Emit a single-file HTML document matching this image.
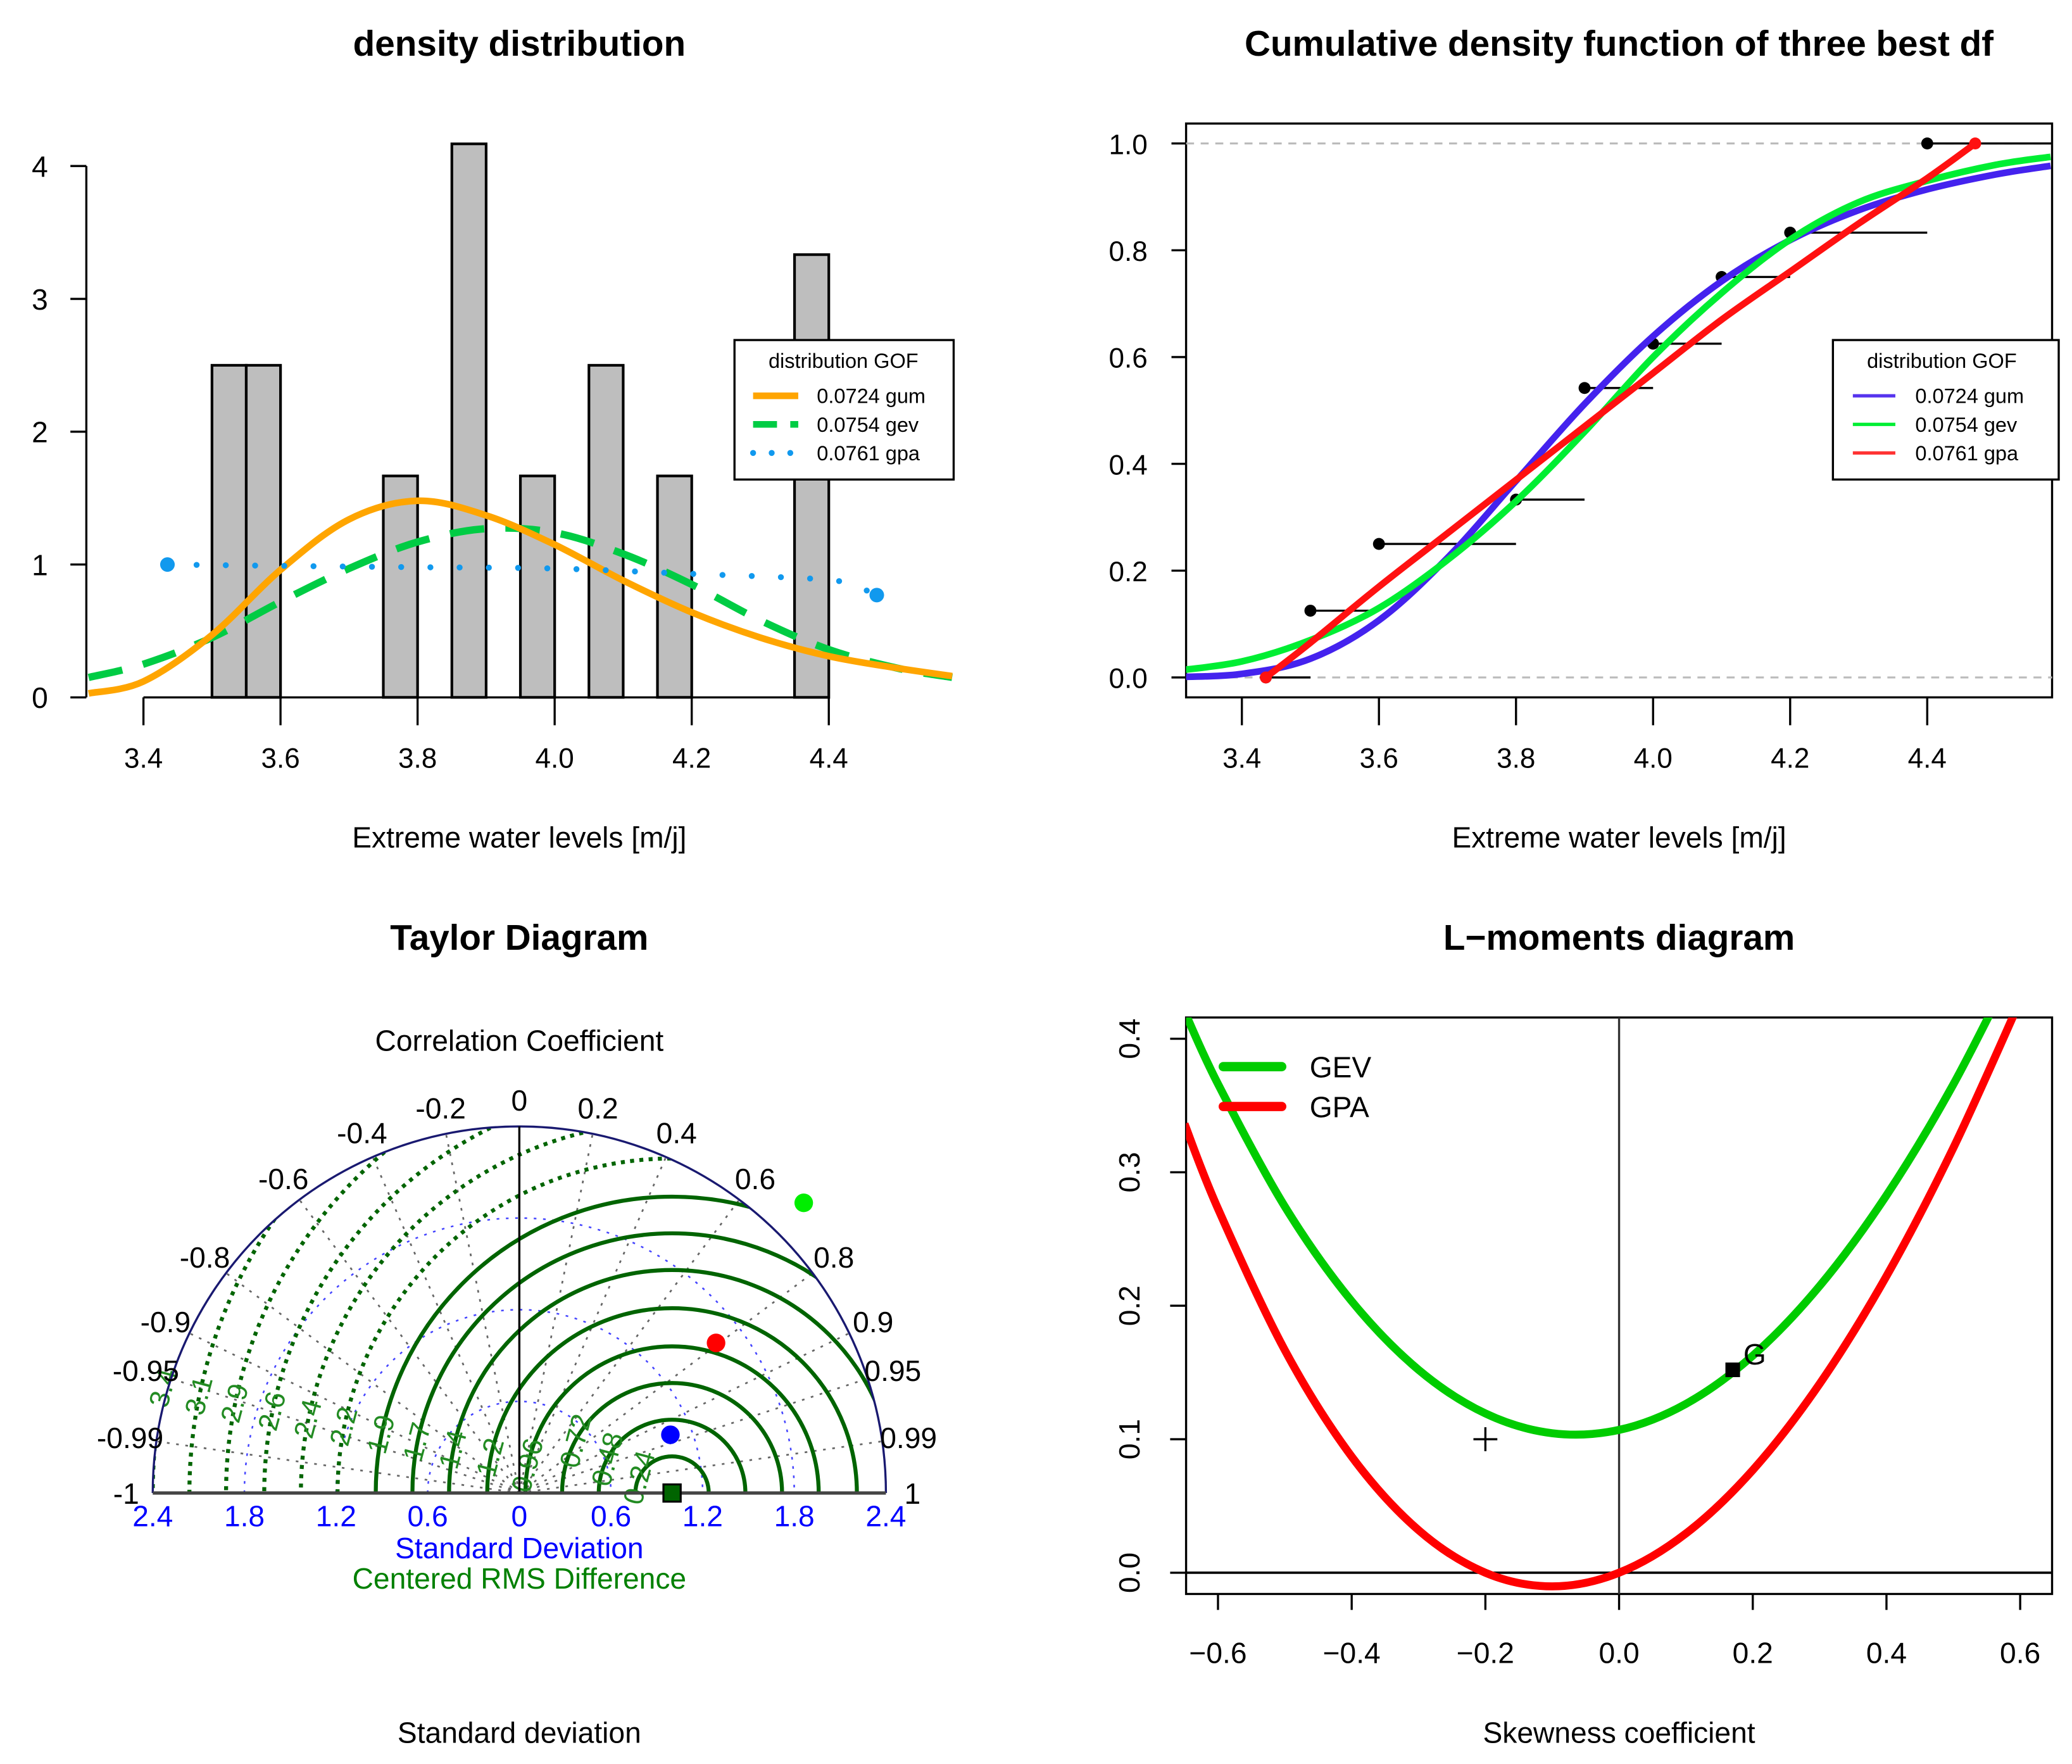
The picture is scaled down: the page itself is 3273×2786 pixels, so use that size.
<!DOCTYPE html>
<html><head><meta charset="utf-8">
<style>
html,body{margin:0;padding:0;background:#fff;overflow:hidden;width:3273px;height:2786px;}
svg{display:block;font-family:"Liberation Sans",Arial,sans-serif;}
</style></head>
<body>
<svg id="root" xmlns="http://www.w3.org/2000/svg" width="3273" height="2786" viewBox="0 0 1560 1328" preserveAspectRatio="none">
<rect x="0" y="0" width="1560" height="1328" fill="#fff"/>
<defs>
  <clipPath id="c1"><rect x="65" y="60" width="653" height="466"/></clipPath>
  <clipPath id="c2"><rect x="893" y="93" width="652" height="432"/></clipPath>
  <clipPath id="c4"><rect x="893" y="766" width="652" height="434"/></clipPath>
  <clipPath id="c3"><path d="M115,1124 A276,276 0 0 1 667,1124 Z"/></clipPath>
</defs>
<g id="p1"></g>
<g id="p2"></g>
<g id="p3"></g>
<g id="p4"></g>
</svg>
<script>
// ---------- Panel 1 data ----------
const binStarts = [3.50, 3.55, 3.75, 3.85, 3.95, 4.05, 4.15, 4.35];
const binDensity = [2.5, 2.5, 1.667, 4.167, 1.667, 2.5, 1.667, 3.333];
const binWidth = 0.05;
const densX = [3.32, 3.4, 3.5, 3.6, 3.7, 3.8, 3.9, 4.0, 4.1, 4.2, 4.3, 4.4, 4.5, 4.58];
const gumDens = [0.03, 0.12, 0.47, 0.96, 1.34, 1.48, 1.37, 1.15, 0.88, 0.64, 0.45, 0.31, 0.22, 0.16];
const gevDens = [0.15, 0.25, 0.45, 0.72, 0.97, 1.17, 1.27, 1.24, 1.08, 0.85, 0.58, 0.36, 0.22, 0.15];
const gpaX = [3.435, 3.6, 3.8, 4.0, 4.2, 4.35, 4.42, 4.47];
const gpaDens = [1.0, 0.99, 0.98, 0.97, 0.93, 0.9, 0.87, 0.77];
const p1XTicks = [3.4, 3.6, 3.8, 4.0, 4.2, 4.4];
const p1YTicks = [0, 1, 2, 3, 4];
const legendLabels = ["0.0724 gum", "0.0754 gev", "0.0761 gpa"];
// ---------- Panel 2 data ----------
const cdfX = [3.3, 3.4, 3.5, 3.6, 3.7, 3.8, 3.9, 4.0, 4.1, 4.2, 4.3, 4.4, 4.5, 4.58];
const gumCdf = [0.0006, 0.0067, 0.035, 0.107, 0.224, 0.368, 0.512, 0.639, 0.742, 0.819, 0.875, 0.914, 0.942, 0.958];
const gevCdf = [0.012, 0.03, 0.07, 0.13, 0.22, 0.33, 0.46, 0.60, 0.72, 0.82, 0.89, 0.93, 0.96, 0.975];
const gpaCdfX = [3.435, 3.5, 3.6, 3.7, 3.8, 3.9, 4.0, 4.1, 4.2, 4.3, 4.4, 4.47];
const gpaCdf = [0, 0.065, 0.17, 0.27, 0.37, 0.47, 0.57, 0.67, 0.76, 0.85, 0.935, 1.0];
const ecdfX = [3.435, 3.5, 3.6, 3.8, 3.9, 4.0, 4.1, 4.2, 4.4];
const ecdfY = [0, 0.125, 0.25, 0.333, 0.542, 0.625, 0.75, 0.833, 1.0];
const p2XTicks = [3.4, 3.6, 3.8, 4.0, 4.2, 4.4];
const p2YTicks = [0, 0.2, 0.4, 0.6, 0.8, 1.0];
// ---------- Panel 3 data ----------
const corrTicks = [0, 0.2, 0.4, 0.6, 0.8, 0.9, 0.95, 0.99, 1];
const sdTicks = [0, 0.6, 1.2, 1.8, 2.4];
const sdArcs = [0.6, 1.2, 1.8];
const rmsLevels = [0.24, 0.48, 0.72, 0.96, 1.21, 1.46, 1.70, 1.94, 2.19, 2.43, 2.67, 2.92, 3.16, 3.40];
const rmsLabels = ["0.24", "0.48", "0.72", "0.96", "1.2", "1.4", "1.7", "1.9", "2.2", "2.4", "2.6", "2.9", "3.1", "3.4"];
const refSD = 1.0;
const modelSD = [2.66, 1.62, 1.06];
const modelCorr = [0.70, 0.795, 0.933];
const modelColors = ["#00ee00", "#ff0000", "#0000ff"];
// ---------- Panel 4 data ----------
const lmX = [-0.65, -0.6, -0.5, -0.4, -0.3, -0.2, -0.1, 0, 0.1, 0.2, 0.3, 0.4, 0.5, 0.6];
const gevL = [0.4204, 0.3661, 0.2743, 0.2034, 0.1520, 0.1193, 0.1045, 0.1070, 0.1265, 0.1626, 0.2148, 0.2827, 0.3658, 0.4638];
const gpaL = [0.3362, 0.2727, 0.1667, 0.0870, 0.0319, 0, -0.0102, 0, 0.0294, 0.0769, 0.1415, 0.2222, 0.3182, 0.4286];
const sampleSkew = [0.17];
const sampleKurt = [0.152];
const crossSkew = [-0.2];
const crossKurt = [0.10];
const p4XTicks = [-0.6, -0.4, -0.2, 0.0, 0.2, 0.4, 0.6];
const p4YTicks = [0.0, 0.1, 0.2, 0.3, 0.4];

const NS = "http://www.w3.org/2000/svg";
function mk(parent, tag, attrs, text) {
  const e = document.createElementNS(NS, tag);
  for (const k in attrs) e.setAttribute(k, attrs[k]);
  if (text !== undefined) e.textContent = text;
  parent.appendChild(e);
  return e;
}
function spline(pts) {
  let d = "M" + pts[0][0] + "," + pts[0][1];
  for (let i = 0; i < pts.length - 1; i++) {
    const p0 = pts[Math.max(0, i - 1)], p1 = pts[i], p2 = pts[i + 1], p3 = pts[Math.min(pts.length - 1, i + 2)];
    const c1x = p1[0] + (p2[0] - p0[0]) / 6, c1y = p1[1] + (p2[1] - p0[1]) / 6;
    const c2x = p2[0] - (p3[0] - p1[0]) / 6, c2y = p2[1] - (p3[1] - p1[1]) / 6;
    d += " C" + c1x + "," + c1y + " " + c2x + "," + c2y + " " + p2[0] + "," + p2[1];
  }
  return d;
}
function fmt1(v) { return v.toFixed(1); }

// ================= Panel 1 =================
(function () {
  const g = document.getElementById("p1");
  const X = v => 108 + (v - 3.4) * 516;
  const Y = v => 525 - v * 100;
  let t = mk(g, "text", { x: 391, y: 42, "text-anchor": "middle", "font-size": 27, "font-weight": "bold" }, "density distribution");
  
  
  binStarts.forEach((b, i) => {
    const r = mk(g, "rect", { x: X(b), y: Y(binDensity[i]), width: X(b + binWidth) - X(b), height: Y(0) - Y(binDensity[i]), fill: "#bebebe", stroke: "#000", "stroke-width": 2 });
    
    
  });
  const ya = mk(g, "line", { x1: 65, y1: Y(0), x2: 65, y2: Y(4), stroke: "#000", "stroke-width": 1.6 });
  
  
  p1YTicks.forEach(v => {
    mk(g, "line", { x1: 53, y1: Y(v), x2: 65, y2: Y(v), stroke: "#000", "stroke-width": 1.6 });
    const l = mk(g, "text", { x: 30, y: Y(v) + 8, "text-anchor": "middle", "font-size": 22 }, String(v));
    
    
  });
  const xa = mk(g, "line", { x1: X(3.4), y1: 525, x2: X(4.4), y2: 525, stroke: "#000", "stroke-width": 1.6 });
  
  
  p1XTicks.forEach(v => {
    mk(g, "line", { x1: X(v), y1: 525, x2: X(v), y2: 546, stroke: "#000", "stroke-width": 1.6 });
    const l = mk(g, "text", { x: X(v), y: 578, "text-anchor": "middle", "font-size": 21 }, fmt1(v));
    
    
  });
  t = mk(g, "text", { x: 391, y: 638, "text-anchor": "middle", "font-size": 22 }, "Extreme water levels [m/j]");
  
  
  const cg = mk(g, "g", { "clip-path": "url(#c1)" });
  let p = mk(cg, "path", { d: spline(densX.map((x, i) => [X(x), Y(gevDens[i])])), fill: "none", stroke: "#00cc44", "stroke-width": 5.5, "stroke-dasharray": "26 16" });
  
  
  p = mk(cg, "path", { d: spline(densX.map((x, i) => [X(x), Y(gumDens[i])])), fill: "none", stroke: "#ffa500", "stroke-width": 5 });
  
  
  p = mk(cg, "path", { d: spline(gpaX.map((x, i) => [X(x), Y(gpaDens[i])])), fill: "none", stroke: "#1199ee", "stroke-width": 4.5, "stroke-linecap": "round", "stroke-dasharray": "0 22" });
  
  
  [0, gpaX.length - 1].forEach(i => {
    const c = mk(cg, "circle", { cx: X(gpaX[i]), cy: Y(gpaDens[i]), r: 5.5, fill: "#1199ee" });
    
    
  });
  const lg = mk(g, "g", {});
  
  
  mk(lg, "rect", { x: 553, y: 256, width: 165, height: 105, fill: "#fff", stroke: "#000", "stroke-width": 1.6 });
  mk(lg, "text", { x: 635, y: 277, "text-anchor": "middle", "font-size": 15.5 }, "distribution GOF");
  const ls = [["#ffa500", "none", 5, "butt"], ["#00cc44", "18 10", 5, "butt"], ["#1199ee", "0 14", 4.5, "round"]];
  ls.forEach((s, i) => {
    const y = 298 + i * 21.5;
    mk(lg, "line", { x1: 567, y1: y, x2: 601, y2: y, stroke: s[0], "stroke-width": s[2], "stroke-dasharray": s[1], "stroke-linecap": s[3] });
    const e = mk(lg, "text", { x: 615, y: y + 5.5, "font-size": 15.5 }, legendLabels[i]);
    
    
  });
})();

// ================= Panel 2 =================
(function () {
  const g = document.getElementById("p2");
  const X = v => 935 + (v - 3.4) * 516;
  const Y = v => 510 - v * 402;
  let t = mk(g, "text", { x: 1219, y: 42, "text-anchor": "middle", "font-size": 27, "font-weight": "bold" }, "Cumulative density function of three best df");
  
  
  const box = mk(g, "rect", { x: 893, y: 93, width: 652, height: 432, fill: "none", stroke: "#000", "stroke-width": 1.6 });
  
  
  [0, 1].forEach(v => mk(g, "line", { x1: 893, y1: Y(v), x2: 1545, y2: Y(v), stroke: "#bbb", "stroke-width": 1.5, "stroke-dasharray": "6 5" }));
  p2YTicks.forEach(v => {
    mk(g, "line", { x1: 882, y1: Y(v), x2: 893, y2: Y(v), stroke: "#000", "stroke-width": 1.6 });
    const l = mk(g, "text", { x: 864, y: Y(v) + 8, "text-anchor": "end", "font-size": 21 }, fmt1(v));
    
    
  });
  p2XTicks.forEach(v => {
    mk(g, "line", { x1: X(v), y1: 525, x2: X(v), y2: 546, stroke: "#000", "stroke-width": 1.6 });
    const l = mk(g, "text", { x: X(v), y: 578, "text-anchor": "middle", "font-size": 21 }, fmt1(v));
    
    
  });
  t = mk(g, "text", { x: 1219, y: 638, "text-anchor": "middle", "font-size": 22 }, "Extreme water levels [m/j]");
  
  
  const cg = mk(g, "g", { "clip-path": "url(#c2)" });
  ecdfX.forEach((x, i) => {
    const x2 = i < ecdfX.length - 1 ? ecdfX[i + 1] : 4.6;
    const s = mk(cg, "line", { x1: X(x), y1: Y(ecdfY[i]), x2: X(x2), y2: Y(ecdfY[i]), stroke: "#000", "stroke-width": 1.6 });
    
    
    const c = mk(cg, "circle", { cx: X(x), cy: Y(ecdfY[i]), r: 4.5, fill: "#000" });
    
    
  });
  let p = mk(cg, "path", { d: spline(cdfX.map((x, i) => [X(x), Y(gumCdf[i])])), fill: "none", stroke: "#4422ee", "stroke-width": 5 });
  
  
  p = mk(cg, "path", { d: spline(cdfX.map((x, i) => [X(x), Y(gevCdf[i])])), fill: "none", stroke: "#00ee33", "stroke-width": 5 });
  
  
  p = mk(cg, "path", { d: spline(gpaCdfX.map((x, i) => [X(x), Y(gpaCdf[i])])), fill: "none", stroke: "#ff1111", "stroke-width": 5 });
  
  
  [0, gpaCdfX.length - 1].forEach(i => {
    const c = mk(cg, "circle", { cx: X(gpaCdfX[i]), cy: Y(gpaCdf[i]), r: 4.5, fill: "#ff1111" });
    
    
  });
  const lg = mk(g, "g", {});
  
  
  mk(lg, "rect", { x: 1380, y: 256, width: 170, height: 105, fill: "#fff", stroke: "#000", "stroke-width": 1.6 });
  mk(lg, "text", { x: 1462, y: 277, "text-anchor": "middle", "font-size": 15.5 }, "distribution GOF");
  ["#5533ee", "#00ee33", "#ff3333"].forEach((c, i) => {
    const y = 298 + i * 21.5;
    mk(lg, "line", { x1: 1395, y1: y, x2: 1427, y2: y, stroke: c, "stroke-width": 2.5 });
    const e = mk(lg, "text", { x: 1442, y: y + 5.5, "font-size": 15.5 }, legendLabels[i]);
    
    
  });
})();

// ================= Panel 3 (Taylor) =================
(function () {
  const g = document.getElementById("p3");
  const OX = 391, OY = 1124, S = 115;
  const R = 2.4 * S;
  const P = (sd, ang) => [OX + sd * S * Math.cos(ang), OY - sd * S * Math.sin(ang)];
  let t = mk(g, "text", { x: 391, y: 715, "text-anchor": "middle", "font-size": 27, "font-weight": "bold" }, "Taylor Diagram");
  
  
  t = mk(g, "text", { x: 391, y: 791, "text-anchor": "middle", "font-size": 22 }, "Correlation Coefficient");
  
  
  const cg = mk(g, "g", { "clip-path": "url(#c3)" });
  corrTicks.forEach(c => {
    [c, -c].forEach(cc => {
      const a = Math.acos(cc);
      const e = P(2.4, a);
      const l = mk(cg, "line", { x1: OX, y1: OY, x2: e[0], y2: e[1], stroke: "#666", "stroke-width": 1.3, "stroke-dasharray": "2 5" });
      
      
    });
  });
  sdArcs.forEach(s => {
    const a = mk(cg, "path", { d: `M${OX - s * S},${OY} A${s * S},${s * S} 0 0 1 ${OX + s * S},${OY}`, fill: "none", stroke: "#4444ff", "stroke-width": 1.2, "stroke-dasharray": "2 5" });
    
    
  });
  const rx = OX + refSD * S;
  rmsLevels.forEach((r, i) => {
    const solid = r < 2.0;
    const c = mk(cg, "circle", { cx: rx, cy: OY, r: r * S, fill: "none", stroke: "#006400", "stroke-width": 3, "stroke-dasharray": solid ? "none" : "3 4" });
    
    
  });
  rmsLevels.forEach((r, i) => {
    const th = (i < 3 ? 150 : 168) * Math.PI / 180;
    const lx = rx + r * S * Math.cos(th) + 6, ly = OY - r * S * Math.sin(th) + 4;
    const l = mk(g, "text", { x: lx, y: ly, "text-anchor": "middle", "font-size": 21, fill: "#228b22", transform: `rotate(-75 ${lx} ${ly})` }, rmsLabels[i]);
    
    
  });
  const oa = mk(g, "path", { d: `M${OX - R},${OY} A${R},${R} 0 0 1 ${OX + R},${OY}`, fill: "none", stroke: "#191970", "stroke-width": 1.6 });
  
  
  mk(g, "line", { x1: OX, y1: OY, x2: OX, y2: OY - R, stroke: "#000", "stroke-width": 1.6 });
  const xa = mk(g, "line", { x1: OX - R, y1: OY, x2: OX + R, y2: OY, stroke: "#444", "stroke-width": 2.5 });
  
  
  corrTicks.forEach(c => {
    (c === 0 ? [0] : [c, -c]).forEach(cc => {
      const a = Math.acos(cc);
      const p = P(2.4 + 20 / S, a);
      const l = mk(g, "text", { x: p[0], y: p[1] + 8, "text-anchor": "middle", "font-size": 22 }, String(cc));
      
      
    });
  });
  sdTicks.forEach(s => {
    (s === 0 ? [0] : [s, -s]).forEach(ss => {
      const l = mk(g, "text", { x: OX + ss * S, y: OY + 25, "text-anchor": "middle", "font-size": 22, fill: "#0000ff" }, String(s));
      
      
    });
  });
  t = mk(g, "text", { x: 391, y: 1173, "text-anchor": "middle", "font-size": 22, fill: "#0000ff" }, "Standard Deviation");
  
  
  t = mk(g, "text", { x: 391, y: 1196, "text-anchor": "middle", "font-size": 22, fill: "#008000" }, "Centered RMS Difference");
  
  
  t = mk(g, "text", { x: 391, y: 1312, "text-anchor": "middle", "font-size": 22 }, "Standard deviation");
  
  
  modelSD.forEach((s, i) => {
    const p = P(s, Math.acos(modelCorr[i]));
    const c = mk(g, "circle", { cx: p[0], cy: p[1], r: 7, fill: modelColors[i] });
    
    
  });
  const rp = mk(g, "rect", { x: rx - 6.5, y: OY - 6.5, width: 13, height: 13, fill: "#006400", stroke: "#000", "stroke-width": 1.5 });
  
  
})();

// ================= Panel 4 (L-moments) =================
(function () {
  const g = document.getElementById("p4");
  const X = v => 1219 + v * 503.3;
  const Y = v => 1184 - v * 1005;
  let t = mk(g, "text", { x: 1219, y: 715, "text-anchor": "middle", "font-size": 27, "font-weight": "bold" }, "L\u2212moments diagram");
  
  
  const box = mk(g, "rect", { x: 893, y: 766, width: 652, height: 434, fill: "none", stroke: "#000", "stroke-width": 1.6 });
  
  
  p4XTicks.forEach(v => {
    mk(g, "line", { x1: X(v), y1: 1200, x2: X(v), y2: 1212, stroke: "#000", "stroke-width": 1.6 });
    const l = mk(g, "text", { x: X(v), y: 1252, "text-anchor": "middle", "font-size": 22 }, (v < 0 ? "\u2212" : "") + Math.abs(v).toFixed(1));
    
    
  });
  p4YTicks.forEach(v => {
    mk(g, "line", { x1: 881, y1: Y(v), x2: 893, y2: Y(v), stroke: "#000", "stroke-width": 1.6 });
    const l = mk(g, "text", { x: 858, y: Y(v), "text-anchor": "middle", "font-size": 22, transform: `rotate(-90 858 ${Y(v)})` }, v.toFixed(1));
    
    
  });
  t = mk(g, "text", { x: 1219, y: 1312, "text-anchor": "middle", "font-size": 22 }, "Skewness coefficient");
  
  
  const cg = mk(g, "g", { "clip-path": "url(#c4)" });
  mk(cg, "line", { x1: X(0), y1: 766, x2: X(0), y2: 1200, stroke: "#333", "stroke-width": 1.6 });
  mk(cg, "line", { x1: 893, y1: Y(0), x2: 1545, y2: Y(0), stroke: "#000", "stroke-width": 1.8 });
  let p = mk(cg, "path", { d: spline(lmX.map((x, i) => [X(x), Y(gevL[i])])), fill: "none", stroke: "#00cc00", "stroke-width": 6 });
  
  
  p = mk(cg, "path", { d: spline(lmX.map((x, i) => [X(x), Y(gpaL[i])])), fill: "none", stroke: "#ff0000", "stroke-width": 6 });
  
  
  sampleSkew.forEach((s, i) => {
    const r = mk(g, "rect", { x: X(s) - 5.5, y: Y(sampleKurt[i]) - 5.5, width: 11, height: 11, fill: "#000" });
    
    
    const l = mk(g, "text", { x: X(s) + 8, y: Y(sampleKurt[i]) - 4, "font-size": 22 }, "G");
    
    
  });
  crossSkew.forEach((s, i) => {
    const cx = X(s), cy = Y(crossKurt[i]);
    const c = mk(g, "path", { d: `M${cx - 9},${cy} H${cx + 9} M${cx},${cy - 9} V${cy + 9}`, stroke: "#000", "stroke-width": 1.6 });
    
    
  });
  const lg = mk(g, "g", {});
  
  
  [["#00cc00", "GEV", 803], ["#ff0000", "GPA", 833]].forEach(e => {
    mk(lg, "line", { x1: 921, y1: e[2], x2: 965, y2: e[2], stroke: e[0], "stroke-width": 7, "stroke-linecap": "round" });
    const l = mk(lg, "text", { x: 986, y: e[2] + 8, "font-size": 22 }, e[1]);
    
    
  });
})();
</script>
</body></html>
